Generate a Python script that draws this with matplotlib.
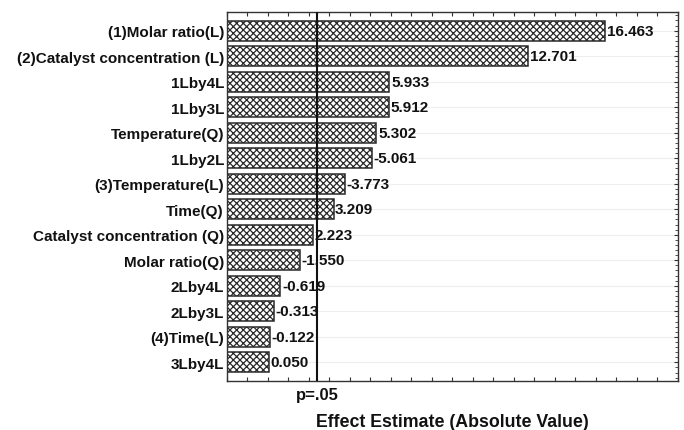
import numpy as np
import matplotlib.pyplot as plt
from matplotlib.ticker import MultipleLocator, NullFormatter

plt.rcParams['font.family'] = ['Liberation Sans', 'DejaVu Sans']
plt.rcParams['hatch.color'] = '#333333'
plt.rcParams['hatch.linewidth'] = 0.9

# standardized effects, sorted by magnitude
terms = ['(1)Molar ratio(L)', '(2)Catalyst concentration (L)', '1Lby4L', '1Lby3L',
         'Temperature(Q)', '1Lby2L', '(3)Temperature(L)', 'Time(Q)',
         'Catalyst concentration (Q)', 'Molar ratio(Q)', '2Lby4L', '2Lby3L',
         '(4)Time(L)', '3Lby4L']
effects = [16.463, 12.701, 5.933, 5.912, 5.302, -5.061, -3.773, 3.209,
           2.223, -1.550, -0.619, -0.313, -0.122, 0.050]
p_crit = 2.40
x_min, x_max = -2.0, 20.0

fig = plt.figure(figsize=(6.84, 4.31), dpi=100)
ax = fig.add_axes([0.3314, 0.1144, 0.9912 - 0.3314, 0.9691 - 0.1144])

ypos = np.arange(len(terms))
mag = np.abs(effects)
ax.barh(ypos, mag - x_min, left=x_min, height=0.78, color='white',
        edgecolor='#2a2a2a', linewidth=1.1, hatch='xxxxx', zorder=2)

for y, m, v in zip(ypos, mag, effects):
    ax.text(m + 0.08, y, f'{v:.3f}', va='center', ha='left',
            fontsize=11, fontweight='bold', color='#111111', zorder=4)

ax.axvline(p_crit, color='#111111', linewidth=1.5, zorder=3)
ax.text(p_crit, -0.018, 'p=.05', transform=ax.get_xaxis_transform(),
        ha='center', va='top', fontsize=12, fontweight='bold', color='#111111')

ax.set_xlim(x_min, x_max)
ax.set_ylim(len(terms) - 1 + 0.72, -0.72)
ax.set_yticks(ypos)
ax.set_yticklabels(terms, fontsize=11, fontweight='bold', color='#111111')
ax.xaxis.set_major_locator(MultipleLocator(1))
ax.xaxis.set_major_formatter(NullFormatter())
ax.tick_params(axis='x', direction='in', length=3, width=0.8, top=True, bottom=True,
               color='#333333')
ax.yaxis.set_minor_locator(MultipleLocator(0.2))
ax.tick_params(axis='y', which='major', direction='in', length=3, left=False,
               right=True, pad=2, color='#333333')
ax.tick_params(axis='y', which='minor', direction='in', length=2, left=False,
               right=True, color='#333333')
ax.grid(axis='y', color='#eeeeee', linewidth=0.8, zorder=0)
ax.set_axisbelow(True)
for s in ax.spines.values():
    s.set_color('#333333')
    s.set_linewidth(1.0)

ax.set_xlabel('Effect Estimate (Absolute Value)', fontsize=12.8, fontweight='bold',
              labelpad=20, color='#111111')

fig.savefig('out.png', dpi=100)
